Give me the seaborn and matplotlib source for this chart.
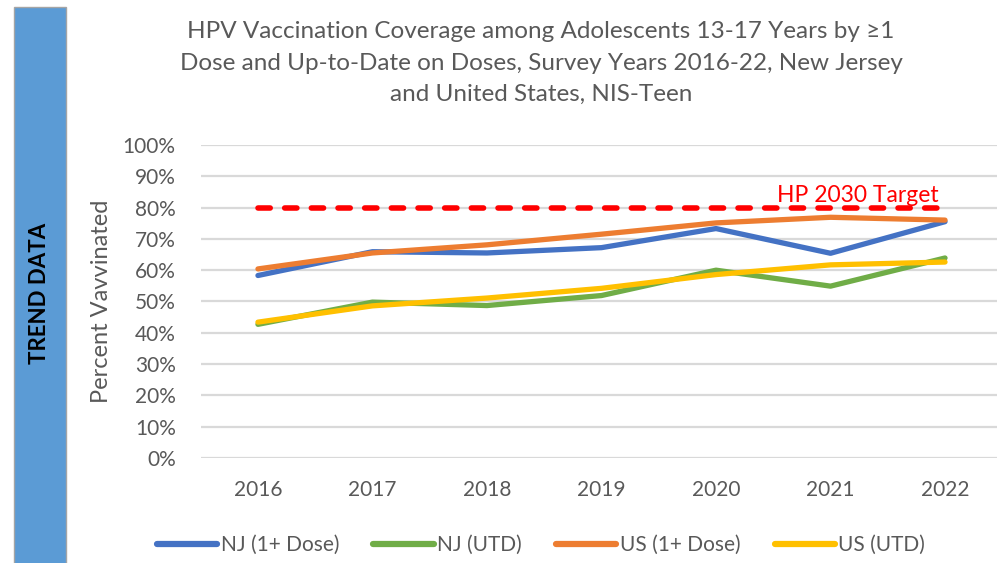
import matplotlib.pyplot as plt
import matplotlib.ticker as tkr
from matplotlib.patches import Rectangle
import pandas as pd
import seaborn as sns

years = [2016, 2017, 2018, 2019, 2020, 2021, 2022]
nj_1dose = [58.3, 65.9, 65.5, 67.2, 73.3, 65.4, 75.5]
nj_utd = [42.7, 49.8, 48.7, 51.9, 60.0, 54.9, 63.9]
us_1dose = [60.4, 65.5, 68.1, 71.5, 75.1, 76.9, 76.0]
us_utd = [43.4, 48.6, 51.1, 54.2, 58.6, 61.7, 62.6]
target = 80
series_names = ['NJ (1+ Dose)', 'NJ (UTD)', 'US (1+ Dose)', 'US (UTD)']
colors = ['#4472C4', '#70AD47', '#ED7D31', '#FFC000']
gray = '#595959'

df = pd.DataFrame({'Year': years * 4,
                   'Percent': nj_1dose + nj_utd + us_1dose + us_utd,
                   'Series': [s for s in series_names for _ in years]})

sns.set_style("white")
plt.rcParams['font.family'] = ['Lato', 'DejaVu Sans']

fig = plt.figure(figsize=(9.97, 5.63), dpi=100)
ax = fig.add_axes([0.2013, 0.1865, 0.804, 0.556])

# left side banner
fig.patches.append(Rectangle((14 / 997, -0.01), 52 / 997, 1 - 7 / 563 + 0.01,
                             transform=fig.transFigure, facecolor='#5B9BD5',
                             edgecolor='#A5A5A5', linewidth=1))
fig.text(40 / 997, 1 - 293 / 563, 'TREND DATA', rotation=90, ha='center', va='center',
         fontsize=16, fontweight='bold', color='black')

ax.hlines(target, years[0], years[-1], colors='#FF0000', linewidth=4,
          linestyles=(0, (2.2, 2.6)), capstyle='round', zorder=3)
ax.text(years[-1] - 0.06, target + 0.6, 'HP 2030 Target', color='#FF0000',
        ha='right', va='bottom', fontsize=16.5)

sns.lineplot(data=df, x='Year', y='Percent', hue='Series', hue_order=series_names,
             palette=colors, linewidth=3.8, ax=ax, legend=False, zorder=4,
             solid_capstyle='round', solid_joinstyle='round')

ax.set_xlim(years[0] - 0.5, years[-1] + 0.5)
ax.set_ylim(0, 100)
ax.set_yticks(range(0, 101, 10))
ax.set_xticks(years)
ax.yaxis.set_major_formatter(tkr.FuncFormatter(lambda y, p: "{:.0f}%".format(y)))
ax.grid(axis='y', color='#D9D9D9', linewidth=1.6)
ax.set_axisbelow(True)
for s in ax.spines.values():
    s.set_visible(False)
ax.tick_params(length=0, labelsize=15, colors=gray)
ax.tick_params(axis='y', pad=18)
ax.tick_params(axis='x', pad=16)
ax.set_xlabel('')
ax.set_ylabel('Percent Vavvinated', fontsize=17, color=gray, labelpad=8)

fig.text(541 / 997, 1 - 63 / 563,
         'HPV Vaccination Coverage among Adolescents 13-17 Years by \u22651\n'
         'Dose and Up-to-Date on Doses, Survey Years 2016-22, New Jersey\n'
         'and United States, NIS-Teen',
         ha='center', va='center', fontsize=17.5, color=gray, linespacing=1.62)

handles = [plt.Line2D([], [], color=c, linewidth=4.5, solid_capstyle='round') for c in colors]
fig.legend(handles, series_names, loc='center', bbox_to_anchor=(541 / 997, 1 - 545 / 563),
           ncol=4, frameon=False, fontsize=15, labelcolor=gray, handlelength=2.9,
           handletextpad=0.15, columnspacing=1.65)

fig.savefig('out.png', dpi=100)
